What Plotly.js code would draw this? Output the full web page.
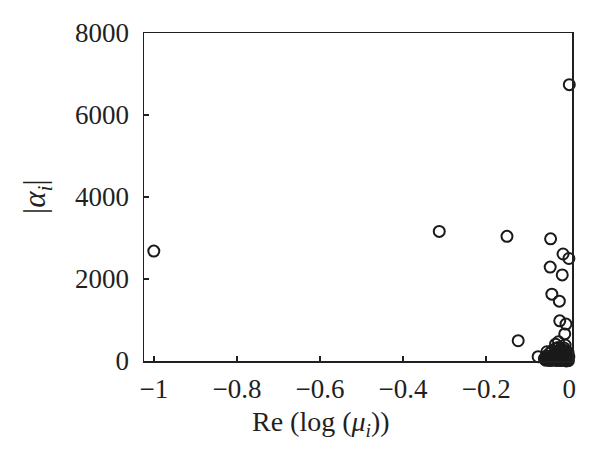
<!DOCTYPE html>
<html>
<head>
<meta charset="utf-8">
<script src="https://cdn.plot.ly/plotly-3.0.1.min.js"></script>
<style>html,body{margin:0;padding:0;background:#fff;}#chart{width:600px;height:460px;}</style>
</head>
<body>
<div id="chart"></div>
<script>
// Re(log(mu_i)) values
var reLogMu = [
  -1.000, -0.313, -0.150, -0.045, -0.015, -0.001, -0.046, -0.017, -0.042, -0.024,
  -0.023, -0.008, -0.011, -0.123, -0.026, -0.010, -0.075, -0.054, 0.000,
  -0.060, -0.055, -0.050, -0.048, -0.045, -0.042, -0.040, -0.038, -0.035, -0.033,
  -0.031, -0.030, -0.028, -0.026, -0.025, -0.023, -0.021, -0.020, -0.018, -0.016,
  -0.015, -0.013, -0.012, -0.010, -0.009, -0.008, -0.006, -0.005, -0.004, -0.003,
  -0.002, -0.001, -0.018, -0.036, -0.044, -0.052, -0.027, -0.033, -0.020, -0.007,
  -0.040, -0.030, -0.022, -0.012, -0.005, -0.047, -0.035, -0.014, -0.003, -0.057
];
// |alpha_i| values
var absAlpha = [
  2680, 3160, 3040, 2980, 2610, 2500, 2290, 2100, 1630, 1460,
  980, 900, 660, 495, 470, 390, 105, 225, 6740,
  60, 120, 30, 180, 80, 250, 20, 140, 60, 300,
  200, 10, 110, 40, 260, 170, 80, 10, 220, 130,
  50, 320, 20, 180, 90, 250, 30, 150, 60, 210,
  10, 110, 40, 100, 40, 80, 330, 410, 300, 0,
  60, 150, 30, 100, 40, 10, 200, 240, 120, 20
];
var xTicks = [-1, -0.8, -0.6, -0.4, -0.2, 0];
var xTickText = ['\u22121', '\u22120.8', '\u22120.6', '\u22120.4', '\u22120.2', '0'];
var yTicks = [0, 2000, 4000, 6000, 8000];

var fontFam = 'Liberation Serif, DejaVu Serif, serif';
var trace = {
  x: reLogMu, y: absAlpha, type: 'scatter', mode: 'markers',
  cliponaxis: false,
  marker: {symbol: 'circle-open', size: 11, color: '#1a1a1a', line: {width: 2, color: '#1a1a1a'}}
};
var layout = {
  width: 600, height: 460,
  margin: {l: 144, r: 28, t: 33, b: 99},
  paper_bgcolor: '#fff', plot_bgcolor: '#fff',
  showlegend: false,
  font: {family: fontFam, size: 27, color: '#231f20'},
  xaxis: {
    range: [-1.0236, 0.0065], tickvals: xTicks, ticktext: xTickText,
    ticks: 'inside', ticklen: 5, tickwidth: 1.5, tickcolor: '#231f20',
    showline: true, linecolor: '#231f20', linewidth: 1.5, mirror: true,
    showgrid: false, zeroline: false, ticklabelstandoff: 3,
    tickfont: {family: fontFam, size: 27, color: '#231f20'}
  },
  yaxis: {
    range: [0, 8000], tickvals: yTicks,
    ticks: 'inside', ticklen: 5, tickwidth: 1.5, tickcolor: '#231f20',
    showline: true, linecolor: '#231f20', linewidth: 1.5, mirror: true,
    showgrid: false, zeroline: false, ticklabelstandoff: 8,
    tickfont: {family: fontFam, size: 27, color: '#231f20'}
  },
  annotations: [
    {text: 'Re (log (<i>\u03bc</i><sub><i>i</i></sub>))', xref: 'paper', yref: 'paper',
     x: (321 - 144) / 428, y: -0.19, xanchor: 'center', yanchor: 'middle', showarrow: false,
     font: {family: fontFam, size: 28, color: '#231f20'}},
    {text: '|<i>\u03b1</i><sub><i>i</i></sub>|', xref: 'paper', yref: 'paper',
     x: (37 - 144) / 428, y: 0.5, xanchor: 'center', yanchor: 'middle', showarrow: false, textangle: -90,
     font: {family: fontFam, size: 31, color: '#231f20'}}
  ]
};
Plotly.newPlot('chart', [trace], layout, {displayModeBar: false, staticPlot: true});
</script>
</body>
</html>
